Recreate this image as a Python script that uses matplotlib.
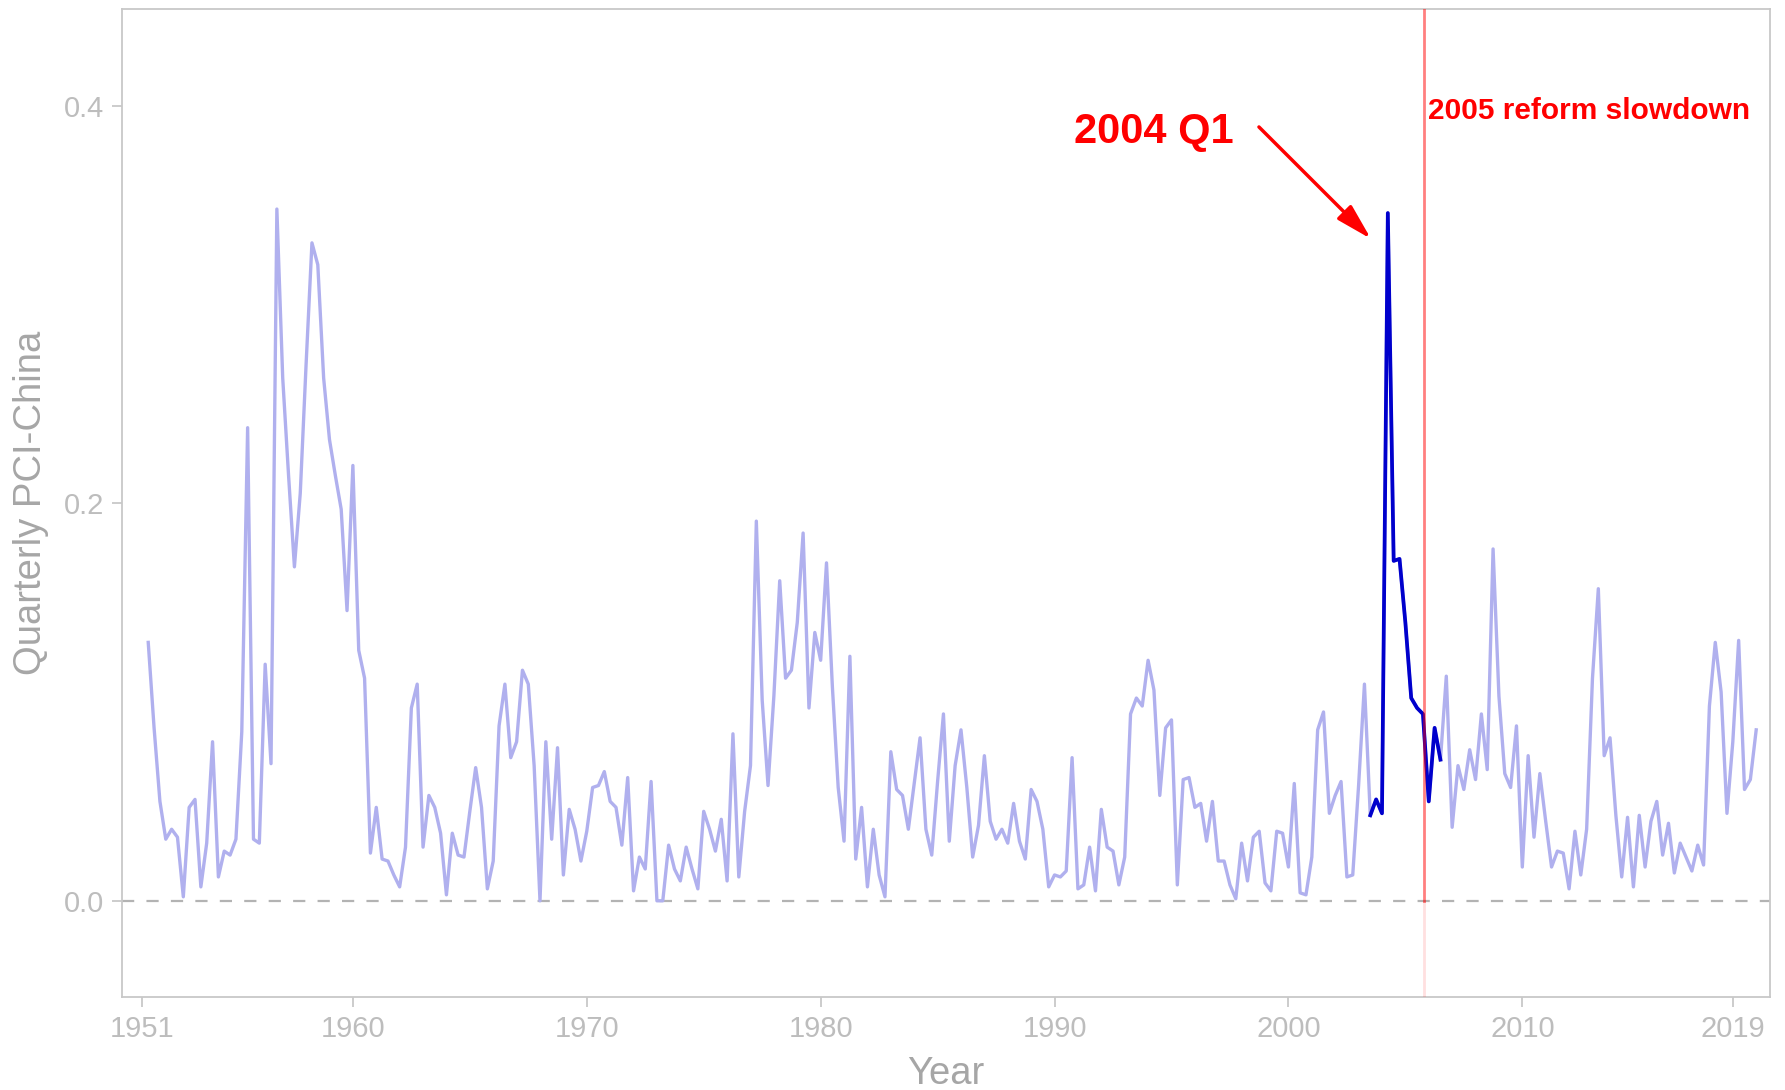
import matplotlib
matplotlib.use("Agg")
import matplotlib.pyplot as plt
import numpy as np

plt.rcParams['font.family'] = ['Liberation Sans', 'DejaVu Sans']

# Quarterly PCI-China, 1951 Q1 .. 2019 Q4 (x = year + quarter/4)
start_year = 1951
pci = [
    0.130, 0.087, 0.050, 0.031, 0.036, 0.032, 0.002, 0.047, 0.051, 0.007,
    0.029, 0.080, 0.012, 0.025, 0.023, 0.031, 0.085, 0.238, 0.031, 0.029,
    0.119, 0.069, 0.348, 0.263, 0.214, 0.168, 0.205, 0.270, 0.331, 0.320,
    0.263, 0.232, 0.214, 0.197, 0.146, 0.219, 0.126, 0.112, 0.024, 0.047,
    0.021, 0.020, 0.013, 0.007, 0.027, 0.097, 0.109, 0.027, 0.053, 0.047,
    0.034, 0.003, 0.034, 0.023, 0.022, 0.045, 0.067, 0.047, 0.006, 0.020,
    0.088, 0.109, 0.072, 0.080, 0.116, 0.109, 0.068, 0.000, 0.080, 0.031,
    0.077, 0.013, 0.046, 0.036, 0.020, 0.035, 0.057, 0.058, 0.065, 0.050,
    0.047, 0.028, 0.062, 0.005, 0.022, 0.016, 0.060, 0.000, 0.000, 0.028,
    0.016, 0.010, 0.027, 0.016, 0.006, 0.045, 0.036, 0.025, 0.041, 0.010,
    0.084, 0.012, 0.045, 0.068, 0.191, 0.101, 0.058, 0.103, 0.161, 0.112,
    0.116, 0.140, 0.185, 0.097, 0.135, 0.121, 0.170, 0.108, 0.057, 0.030,
    0.123, 0.021, 0.047, 0.007, 0.036, 0.013, 0.002, 0.075, 0.056, 0.053,
    0.036, 0.059, 0.082, 0.036, 0.023, 0.060, 0.094, 0.030, 0.068, 0.086,
    0.057, 0.022, 0.038, 0.073, 0.040, 0.031, 0.036, 0.029, 0.049, 0.030,
    0.021, 0.056, 0.050, 0.036, 0.007, 0.013, 0.012, 0.015, 0.072, 0.006,
    0.008, 0.027, 0.005, 0.046, 0.027, 0.025, 0.008, 0.022, 0.094, 0.102,
    0.098, 0.121, 0.106, 0.053, 0.087, 0.091, 0.008, 0.061, 0.062, 0.047,
    0.049, 0.030, 0.050, 0.020, 0.020, 0.008, 0.001, 0.029, 0.010, 0.032,
    0.035, 0.009, 0.005, 0.035, 0.034, 0.017, 0.059, 0.004, 0.003, 0.022,
    0.086, 0.095, 0.044, 0.053, 0.060, 0.012, 0.013, 0.058, 0.109, 0.043,
    0.051, 0.044, 0.346, 0.171, 0.172, 0.140, 0.102, 0.097, 0.094, 0.050,
    0.087, 0.071, 0.113, 0.037, 0.068, 0.056, 0.076, 0.061, 0.094, 0.066,
    0.177, 0.103, 0.064, 0.057, 0.088, 0.017, 0.073, 0.032, 0.064, 0.040,
    0.017, 0.025, 0.024, 0.006, 0.035, 0.013, 0.036, 0.112, 0.157, 0.073,
    0.082, 0.043, 0.012, 0.042, 0.007, 0.043, 0.017, 0.040, 0.050, 0.023,
    0.039, 0.014, 0.029, 0.022, 0.015, 0.028, 0.018, 0.098, 0.130, 0.105,
    0.044, 0.080, 0.131, 0.056, 0.061, 0.086,
]

highlight_start = 2003.5
highlight_end = 2006.5
reform_x = 2005.8

xticks = [1951, 1960, 1970, 1980, 1990, 2000, 2010, 2019]
yticks = [0.0, 0.2, 0.4]
ytick_labels = ["0.0", "0.2", "0.4"]

x = np.array([start_year + (k + 1) / 4 for k in range(len(pci))])
y = np.array(pci)
mask = (x >= highlight_start - 1e-9) & (x <= highlight_end + 1e-9)

W, H = 1785, 1090
fig = plt.figure(figsize=(W / 100, H / 100), dpi=100)
L, R, T, B = 121.8, 1770, 9.1, 997.2
ax = fig.add_axes([L / W, 1 - B / H, (R - L) / W, (B - T) / H])

xlo, xhi = 1950.12, 2020.59
ylo, yhi = -0.0485, 0.4486
ax.set_xlim(xlo, xhi)
ax.set_ylim(ylo, yhi)

ax.axhline(0, color='#b3b3b3', lw=1.6, ls=(0, (5.5, 5.5)), zorder=1)
ax.plot(x, y, color='#b0b0ee', lw=2.4, zorder=2, solid_joinstyle='round')
ax.plot(x[mask], y[mask], color='#0000cc', lw=2.7, zorder=3, solid_joinstyle='round')

zfrac = (0 - ylo) / (yhi - ylo)
ax.axvline(reform_x, ymin=zfrac, ymax=1, color='red', alpha=0.5, lw=2, zorder=4)
ax.axvline(reform_x, ymin=0, ymax=zfrac, color='red', alpha=0.12, lw=2, zorder=4)

ax.text(1990.83, 0.3813, '2004 Q1', color='red', fontsize=30, fontweight='bold',
        ha='left', va='baseline')
ax.annotate('', xy=(2003.53, 0.333), xytext=(1998.74, 0.3893),
            arrowprops=dict(arrowstyle='-|>,head_length=1.1,head_width=0.3',
                            color='red', lw=2.5, shrinkA=0, shrinkB=0,
                            mutation_scale=20))
ax.text(2005.97, 0.3935, '2005 reform slowdown', color='red', fontsize=21.5,
        fontweight='bold', ha='left', va='baseline')

ax.set_xticks(xticks)
ax.set_xticklabels([str(t) for t in xticks])
ax.set_yticks(yticks)
ax.set_yticklabels(ytick_labels)
ax.tick_params(axis='both', colors='#c8c8c8', labelcolor='#bdbdbd', labelsize=21,
               length=7, width=1.3, direction='out', pad=5.5)
for s in ax.spines.values():
    s.set_color('#c8c8c8')
    s.set_linewidth(1.3)

ax.set_xlabel('Year', fontsize=27.5, color='#a6a6a6')
ax.xaxis.set_label_coords(0.5, -0.060)
ax.set_ylabel('Quarterly PCI-China', fontsize=27.5, color='#a6a6a6')
ax.yaxis.set_label_coords(-0.044, 0.5)

fig.savefig('out.png', dpi=100)
